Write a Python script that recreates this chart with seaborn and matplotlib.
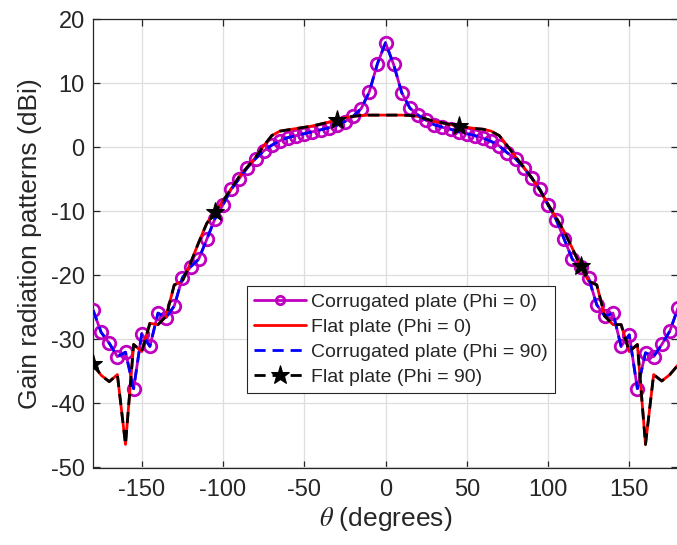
import numpy as np
import pandas as pd
import matplotlib
matplotlib.use("Agg")
import matplotlib.pyplot as plt
import seaborn as sns

sns.set_style("ticks")
plt.rcParams['font.family'] = ['Liberation Sans', 'DejaVu Sans']
plt.rcParams['mathtext.fontset'] = 'stix'
plt.rcParams['axes.unicode_minus'] = False

# Angle (degrees), 5 degree steps
theta = list(range(-180, 185, 5))

# Corrugated plate gain (dBi)
corr_phi0 = [
    -25.4, -28.9, -30.6, -32.7, -32.0, -37.7, -29.1, -31.1, -25.9, -26.6,
    -24.8, -20.4, -18.7, -17.5, -14.4, -11.2, -9.0, -6.6, -4.9, -3.2,
    -1.8, -0.6, 0.3, 1.0, 1.5, 1.8, 2.1, 2.4, 2.7, 3.0,
    3.4, 4.0, 4.8, 6.0, 8.6, 13.0, 16.3, 12.9, 8.5, 6.1,
    5.0, 4.2, 3.5, 3.1, 2.8, 2.4, 2.1, 1.8, 1.4, 0.9,
    0.2, -0.9, -1.8, -3.2, -4.8, -6.6, -9.0, -11.3, -14.4, -17.5,
    -18.7, -20.4, -24.6, -26.4, -25.9, -31.1, -29.3, -37.7, -32.1, -32.7,
    -30.8, -28.7, -25.1,
]
corr_phi90 = list(corr_phi0)

# Flat plate gain (dBi)
flat_phi0 = [
    -33.9, -35.6, -36.6, -35.5, -46.4, -30.8, -31.9, -27.5, -27.7, -26.4,
    -21.5, -20.9, -18.1, -14.9, -11.9, -10.1, -8.4, -6.5, -4.6, -3.1,
    -1.6, 0.2, 1.8, 2.5, 2.7, 2.9, 3.1, 3.3, 3.6, 3.9,
    4.3, 4.6, 4.8, 4.95, 5.0, 5.0, 5.0, 5.0, 5.0, 4.95,
    4.8, 4.4, 4.0, 3.8, 3.5, 3.3, 3.1, 2.9, 2.8, 2.5,
    1.8, 0.2, -1.5, -3.1, -4.8, -6.7, -8.9, -11.0, -13.2, -15.8,
    -18.6, -20.9, -21.5, -26.4, -27.7, -27.7, -31.9, -30.8, -46.4, -35.5,
    -36.5, -35.5, -34.0,
]
flat_phi90 = list(flat_phi0)

df = pd.DataFrame({'theta': theta,
                   'corr0': corr_phi0, 'flat0': flat_phi0,
                   'corr90': corr_phi90, 'flat90': flat_phi90})

fig = plt.figure(figsize=(6.77, 5.45), dpi=100)
ax = fig.add_axes([93 / 677, 1 - 467.5 / 545, 585 / 677, (467.5 - 19) / 545])

sns.lineplot(data=df, x='theta', y='corr0', ax=ax, color='#bf00bf', lw=2,
             marker='o', markersize=9, markerfacecolor='none',
             markeredgecolor='#bf00bf', markeredgewidth=2,
             label='Corrugated plate (Phi = 0)', zorder=3)
sns.lineplot(data=df, x='theta', y='flat0', ax=ax, color='red', lw=2,
             label='Flat plate (Phi = 0)', zorder=4)
sns.lineplot(data=df, x='theta', y='corr90', ax=ax, color='blue', lw=2,
             linestyle=(0, (4, 2.5)), label='Corrugated plate (Phi = 90)', zorder=5)
sns.lineplot(data=df, x='theta', y='flat90', ax=ax, color='black', lw=2,
             linestyle=(0, (4, 2.5)), marker='*', markersize=14,
             markevery=15, markerfacecolor='black', markeredgecolor='black',
             label='Flat plate (Phi = 90)', zorder=6)

ax.set_xlim(-180, 180)
ax.set_ylim(-50, 20)
ax.set_xticks([-150, -100, -50, 0, 50, 100, 150])
ax.set_yticks(range(-50, 21, 10))
ax.grid(True, color='#dedede', lw=0.9)
ax.set_axisbelow(True)
ax.tick_params(direction='in', length=5, width=0.9, colors='#262626',
               labelsize=17, top=True, right=True)
ax.tick_params(axis='x', pad=8)
ax.tick_params(axis='y', pad=6)
for s in ax.spines.values():
    s.set_color('#262626')
    s.set_linewidth(0.9)

ax.set_xlabel(r'$\theta$ (degrees)', fontsize=19, color='#262626', labelpad=3)
ax.set_ylabel('Gain radiation patterns (dBi)', fontsize=19, color='#262626', labelpad=6)

leg = ax.legend(loc='upper left', bbox_to_anchor=(0.2627, 0.405), fontsize=14,
                numpoints=1, handlelength=2.65, handletextpad=0.25,
                borderpad=0.4, labelspacing=0.37, borderaxespad=0,
                frameon=True, fancybox=False, framealpha=1)
leg.get_frame().set_edgecolor('#262626')
leg.get_frame().set_linewidth(0.8)
for h in leg.legend_handles:
    if h.get_marker() == 'o':
        h.set_markersize(6)

fig.savefig('out.png', dpi=100)
